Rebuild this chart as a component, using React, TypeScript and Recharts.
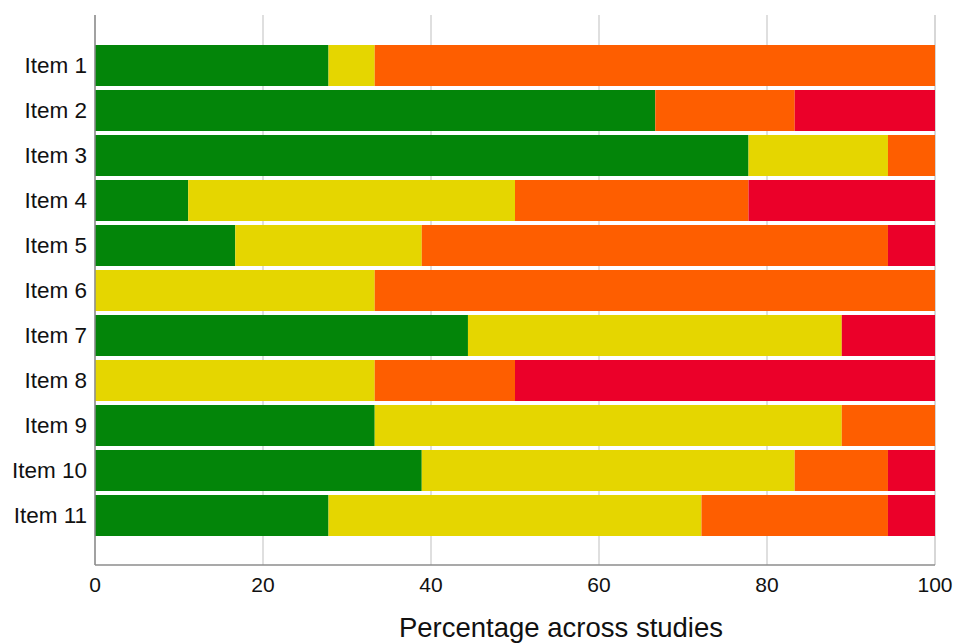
import { BarChart, Bar, XAxis, YAxis, CartesianGrid } from "recharts";

const items = ["Item 1", "Item 2", "Item 3", "Item 4", "Item 5", "Item 6", "Item 7", "Item 8", "Item 9", "Item 10", "Item 11"];

// percentage of studies per rating (18 studies)
const green = [27.8, 66.7, 77.8, 11.1, 16.7, 0, 44.4, 0, 33.3, 38.9, 27.8];
const yellow = [5.5, 0, 16.6, 38.9, 22.2, 33.3, 44.5, 33.3, 55.6, 44.4, 44.4];
const orange = [66.7, 16.6, 5.6, 27.8, 55.5, 66.7, 0, 16.7, 11.1, 11.1, 22.2];
const red = [0, 16.7, 0, 22.2, 5.6, 0, 11.1, 50, 0, 5.6, 5.6];

const xTicks = [0, 20, 40, 60, 80, 100];

const data = items.map((name, i) => ({
  name,
  green: green[i],
  yellow: yellow[i],
  orange: orange[i],
  red: red[i],
}));

const series = [
  { key: "green", color: "#038509" },
  { key: "yellow", color: "#e5d600" },
  { key: "orange", color: "#fe5e00" },
  { key: "red", color: "#eb0029" },
];

export default function App() {
  return (
    <div style={{ position: "absolute", left: 0, top: 0, fontFamily: "'Liberation Sans', Arial, sans-serif" }}>
      <BarChart
        width={956}
        height={643}
        data={data}
        layout="vertical"
        margin={{ top: 15, right: 21, bottom: 38, left: 5 }}
        barCategoryGap={2}
      >
        <CartesianGrid horizontal={false} stroke="#d4d4d4" strokeWidth={1.5} />
        <XAxis
          type="number"
          domain={[0, 100]}
          ticks={xTicks}
          tickLine={false}
          axisLine={{ stroke: "#8c8c8c", strokeWidth: 1.5 }}
          tick={{ fill: "#111", fontSize: 21 }}
          tickMargin={6}
          height={40}
          label={{ value: "Percentage across studies", position: "insideBottom", offset: -32, dx: 46, fill: "#111", fontSize: 27.5 }}
        />
        <YAxis
          type="category"
          dataKey="name"
          width={90}
          tickLine={false}
          axisLine={{ stroke: "#8c8c8c", strokeWidth: 1.5 }}
          tick={{ fill: "#111", fontSize: 22.5 }}
          tickMargin={2}
          padding={{ top: 28, bottom: 27 }}
          interval={0}
        />
        {series.map((s) => (
          <Bar key={s.key} dataKey={s.key} stackId="a" fill={s.color} isAnimationActive={false} />
        ))}
      </BarChart>
    </div>
  );
}
